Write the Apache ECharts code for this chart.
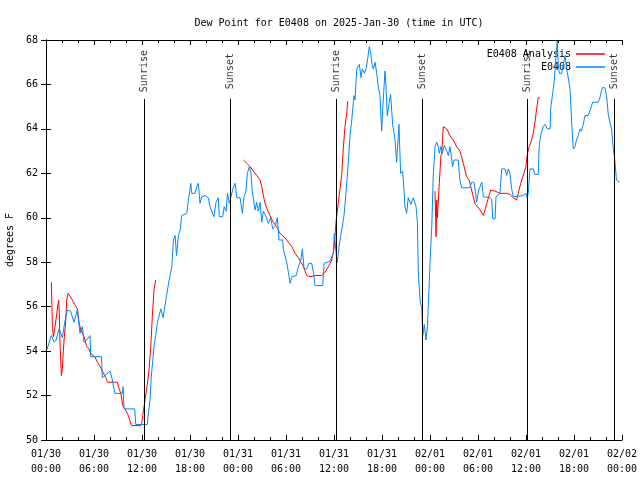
<!DOCTYPE html>
<html>
<head>
<meta charset="utf-8">
<script src="https://cdn.jsdelivr.net/npm/echarts@6/dist/echarts.min.js"></script>
<style>html,body{margin:0;padding:0;background:#fff}#c{width:640px;height:480px}</style>
</head>
<body>
<div id="c"></div>
<script>
// Hours after 2025-01-30 00:00 UTC
const obsHours = [0.1,0.67,1.01,1.26,1.63,2.05,2.34,2.67,3.07,3.5,3.92,4.25,4.54,4.75,5.09,5.5,5.59,6.93,7.05,8.01,8.3,8.6,9.55,9.63,9.76,11.09,11.22,12.66,12.75,13.0,13.16,13.5,13.71,13.91,14.35,14.64,14.98,15.39,15.73,15.93,16.14,16.32,16.55,16.76,16.97,17.6,17.8,18.1,18.22,18.63,18.84,19.04,19.25,19.47,19.88,20.29,20.5,20.71,21.0,21.25,21.54,21.66,22.09,22.27,22.52,22.68,22.93,23.35,23.64,23.85,24.26,24.55,24.76,25.01,25.17,25.42,25.63,25.76,26.13,26.34,26.54,26.76,26.97,27.17,27.5,27.79,28.09,28.34,28.63,28.91,29.13,29.59,29.66,30.09,30.3,30.52,30.73,31.27,31.55,31.85,32.05,32.26,32.6,32.85,33.22,33.45,33.63,34.59,34.76,35.5,35.92,36.04,36.34,36.41,36.63,36.84,37.09,37.25,37.5,37.79,38.0,38.22,38.42,38.51,38.63,38.84,39.17,39.38,39.54,39.79,40.0,40.17,40.41,40.59,40.75,40.91,41.13,41.34,41.54,41.75,41.96,42.09,42.37,42.5,42.66,42.91,43.08,43.33,43.62,43.83,44.12,44.33,44.58,44.74,44.87,45.08,45.28,45.61,45.9,46.26,46.42,46.54,46.76,46.97,47.09,47.29,47.5,47.67,47.88,48.0,48.21,48.41,48.63,48.84,49.04,49.16,49.37,49.54,49.79,50.09,50.29,50.5,50.83,51.0,51.53,51.74,51.96,52.99,53.2,53.49,53.61,53.83,54.05,54.47,54.67,55.51,55.72,55.84,56.13,56.25,56.75,56.96,57.37,57.58,57.78,57.99,58.21,58.41,59.66,59.99,60.16,60.28,60.49,60.9,61.12,61.53,61.65,61.83,62.15,62.38,62.67,63.01,63.09,63.34,63.54,63.75,63.91,64.04,64.16,64.46,64.66,64.88,65.09,65.29,65.5,65.71,65.91,66.12,66.24,66.53,66.75,66.93,67.16,67.37,67.78,68.08,68.33,69.03,69.24,69.53,69.86,70.07,70.27,70.48,70.69,70.89,71.1,71.31,71.51,71.72];
const obsDew = [54.05,54.7,54.4,54.5,55.0,54.6,55.3,55.85,55.8,55.3,55.85,54.8,55.1,54.4,54.5,54.7,53.75,53.75,52.8,53.1,52.7,52.1,52.1,52.4,51.4,51.4,50.7,50.7,51.05,51.8,52.85,54.2,54.7,55.25,55.9,55.5,56.3,57.2,57.8,59.0,59.2,58.3,59.2,59.45,60.1,60.2,60.8,61.55,61.1,61.1,61.4,61.55,60.65,60.95,61.0,60.9,60.5,60.3,60.05,60.7,60.9,60.05,60.05,60.5,60.3,61.1,60.65,61.3,61.55,60.9,60.9,60.2,60.95,61.25,62.0,62.3,62.0,61.25,60.35,60.7,60.3,60.7,59.8,60.3,60.05,59.75,60.0,59.5,59.6,60.0,59.0,59.0,58.6,58.0,57.55,57.05,57.35,57.4,57.8,58.1,58.6,57.7,57.7,57.95,57.95,57.5,56.95,56.95,57.95,58.05,58.4,59.3,58.1,57.98,58.7,59.2,59.25,60.1,61.1,62.5,63.7,64.4,65.2,65.5,65.3,66.7,66.9,66.3,66.7,66.5,66.7,67.05,67.7,67.4,66.9,66.7,67.0,66.5,65.9,65.5,63.9,64.9,66.6,65.9,64.6,65.2,65.55,64.2,63.55,62.5,64.2,62.0,62.1,61.3,60.5,60.2,60.9,60.6,60.9,60.5,59.8,57.5,56.3,55.9,54.7,55.2,54.5,55.1,56.8,58.0,59.5,61.9,63.2,63.4,63.2,62.9,63.2,62.9,63.25,63.0,62.8,63.2,62.3,62.6,62.6,61.7,61.35,61.35,61.6,61.6,61.35,60.7,61.2,61.6,60.95,60.9,60.8,59.95,59.95,60.95,61.1,62.2,62.2,61.9,62.2,62.0,61.3,60.95,61.0,61.1,60.9,61.1,62.2,62.2,61.95,61.95,63.2,63.7,64.1,64.2,64.0,64.0,64.95,65.6,66.2,67.3,67.95,66.9,66.5,66.5,66.9,67.3,66.7,66.7,65.8,64.3,63.1,63.2,63.4,63.7,64.0,63.9,64.2,64.6,64.6,64.9,65.2,65.2,65.4,65.85,65.85,65.5,64.7,64.3,64.0,63.2,62.6,61.7,61.7,61.6];

const ana1Hours = [0.67,0.8,0.92,1.1,1.35,1.51,1.6,1.67,1.76,1.92,2.05,2.13,2.26,2.47,2.59,2.76,3.01,3.29,3.59,3.92,4.13,4.34,4.54,4.75,5.09,5.37,5.59,5.79,6.09,6.43,6.77,7.05,7.48,7.68,8.3,8.92,9.14,9.35,9.63,9.88,10.17,10.38,10.67,11.84,11.97,12.09,12.25,12.46,12.66,12.88,13.09,13.29,13.5,13.71];
const ana1Dew = [57.1,55.1,54.65,55.0,55.7,56.15,56.3,55.5,54.2,52.9,53.2,53.8,54.5,55.4,56.3,56.6,56.6,56.3,56.1,55.9,55.3,54.95,54.9,54.65,54.2,54.1,53.9,53.9,53.75,53.5,53.3,53.1,52.8,52.6,52.6,52.6,52.3,52.1,51.5,51.4,51.2,51.0,50.65,50.65,50.75,51.1,51.5,52.0,52.5,53.15,54.2,55.55,56.75,57.2];
const ana2Hours = [24.67,25.1,25.51,25.92,26.34,26.76,26.97,27.17,27.38,27.67,28.0,28.41,28.84,29.25,29.87,30.3,30.73,31.14,31.55,32.18,32.6,33.01,33.63,34.47,34.88,35.29,35.72,36.0,36.25,36.54,36.75,36.96,37.16,37.37,37.59,37.71,37.79];
const ana2Dew = [62.6,62.45,62.3,62.1,61.9,61.7,61.4,61.0,60.65,60.35,60.1,59.8,59.6,59.3,59.1,58.9,58.7,58.4,58.2,57.8,57.4,57.35,57.4,57.4,57.55,57.8,58.1,58.6,59.8,60.7,61.3,61.9,63.1,64.1,64.7,65.25,65.25];
const ana3Hours = [48.63,48.76,48.84,48.92,49.16,49.37,49.46,49.66,50.09,50.5,50.91,51.33,51.74,52.16,52.58,52.9,53.2,53.61,54.26,54.67,55.09,55.59,56.13,56.75,57.58,57.99,58.41,58.83,59.16,59.46,59.74,59.99,60.16,60.4,60.62,60.9,61.12,61.33,61.53,61.74];
const ana3Dew = [61.2,59.15,60.8,60.0,61.55,62.8,62.9,64.1,64.0,63.7,63.5,63.2,63.0,62.45,61.85,61.7,61.25,60.65,60.35,60.1,60.65,61.25,61.2,61.1,61.1,61.05,60.9,60.8,61.3,61.7,62.0,62.3,62.85,63.2,63.4,63.8,64.3,64.9,65.4,65.4];

const eventNames = ['Sunrise','Sunset','Sunrise','Sunset','Sunrise','Sunset'];
const eventHours = [12.25,23.04,36.34,47.04,60.16,71.0];

const xTicks = {min: 0, max: 72, interval: 6};
const yTicks = {min: 50, max: 68, interval: 2};

const FONT = 'DejaVu Sans Mono';
const pad = n => String(n).padStart(2,'0');
function fmtTime(h){
  const d = new Date(Date.UTC(2025,0,30) + h*3600000);
  return pad(d.getUTCMonth()+1)+'/'+pad(d.getUTCDate())+'\n'+pad(d.getUTCHours())+':'+pad(d.getUTCMinutes());
}
const zip = (a,b) => a.map((v,i)=>[v,b[i]]);
const anaData = zip(ana1Hours,ana1Dew).concat([[18,'-']], zip(ana2Hours,ana2Dew), [[42,'-']], zip(ana3Hours,ana3Dew));
const obsData = zip(obsHours,obsDew);

const chart = echarts.init(document.getElementById('c'), null, {renderer:'canvas'});
const xBase = {
  type:'value', min:xTicks.min, max:xTicks.max, interval:xTicks.interval,
  splitLine:{show:false},
  axisLine:{show:true, lineStyle:{color:'#000', width:1}},
  axisTick:{show:true, inside:true, length:5, lineStyle:{color:'#000'}},
  minorTick:{show:true, splitNumber:3, length:3, lineStyle:{color:'#000'}}
};
const yBase = {
  type:'value', min:yTicks.min, max:yTicks.max, interval:yTicks.interval,
  splitLine:{show:false},
  axisLine:{show:true, lineStyle:{color:'#000', width:1}},
  axisTick:{show:true, inside:true, length:5, lineStyle:{color:'#000'}}
};
const legendText = {fontFamily:FONT, fontSize:10, color:'#000'};
chart.setOption({
  animation:false,
  backgroundColor:'#fff',
  title:{text:'Dew Point for E0408 on 2025-Jan-30 (time in UTC)', left:334, top:13, textAlign:'center',
    textStyle:{fontFamily:FONT, fontSize:10, fontWeight:'normal', color:'#000'}},
  grid:{left:46, right:18, top:40, bottom:40, show:false, containLabel:false, outerBoundsMode:'none'},
  legend:[
    {data:['E0408 Analysis'], right:30, top:44, orient:'vertical', align:'right', icon:'rect', itemWidth:29, itemHeight:1.5, textStyle:legendText, selectedMode:false},
    {data:['E0408'], right:30, top:57, orient:'vertical', align:'right', icon:'rect', itemWidth:29, itemHeight:1.5, textStyle:legendText, selectedMode:false}
  ],
  xAxis:[
    Object.assign({}, xBase, {position:'bottom', axisLabel:{show:true, margin:7, lineHeight:15, fontFamily:FONT, fontSize:10, color:'#000', formatter:fmtTime}}),
    Object.assign({}, xBase, {position:'top', axisLabel:{show:false}})
  ],
  yAxis:[
    Object.assign({}, yBase, {position:'left', name:'degrees F', nameLocation:'middle', nameGap:31, nameRotate:90,
      nameTextStyle:{fontFamily:FONT, fontSize:10, color:'#000'},
      axisLabel:{show:true, margin:8, fontFamily:FONT, fontSize:10, color:'#000'}}),
    Object.assign({}, yBase, {position:'right', axisLabel:{show:false}})
  ],
  series:[
    {name:'E0408 Analysis', type:'line', data:anaData, showSymbol:false, connectNulls:false,
      lineStyle:{color:'#ff0000', width:1}, itemStyle:{color:'#ff0000'}, silent:true, z:3},
    {name:'E0408', type:'line', data:obsData, showSymbol:false,
      lineStyle:{color:'#0088ff', width:1}, itemStyle:{color:'#0088ff'}, silent:true, z:4},
    {name:'events', type:'scatter', symbolSize:0, silent:true, z:5,
      data:eventHours.map((h,i)=>({value:[h,66.6], name:eventNames[i]})),
      label:{show:true, position:'inside', rotate:90, formatter:p=>p.name, fontFamily:FONT, fontSize:10, color:'#000'},
      markLine:{symbol:['none','none'], silent:true, label:{show:false},
        lineStyle:{color:'#000', width:1, type:'solid'},
        data:eventHours.map(h=>[{coord:[h,65.35]},{coord:[h,50]}])}
    }
  ]
});
</script>
</body>
</html>
